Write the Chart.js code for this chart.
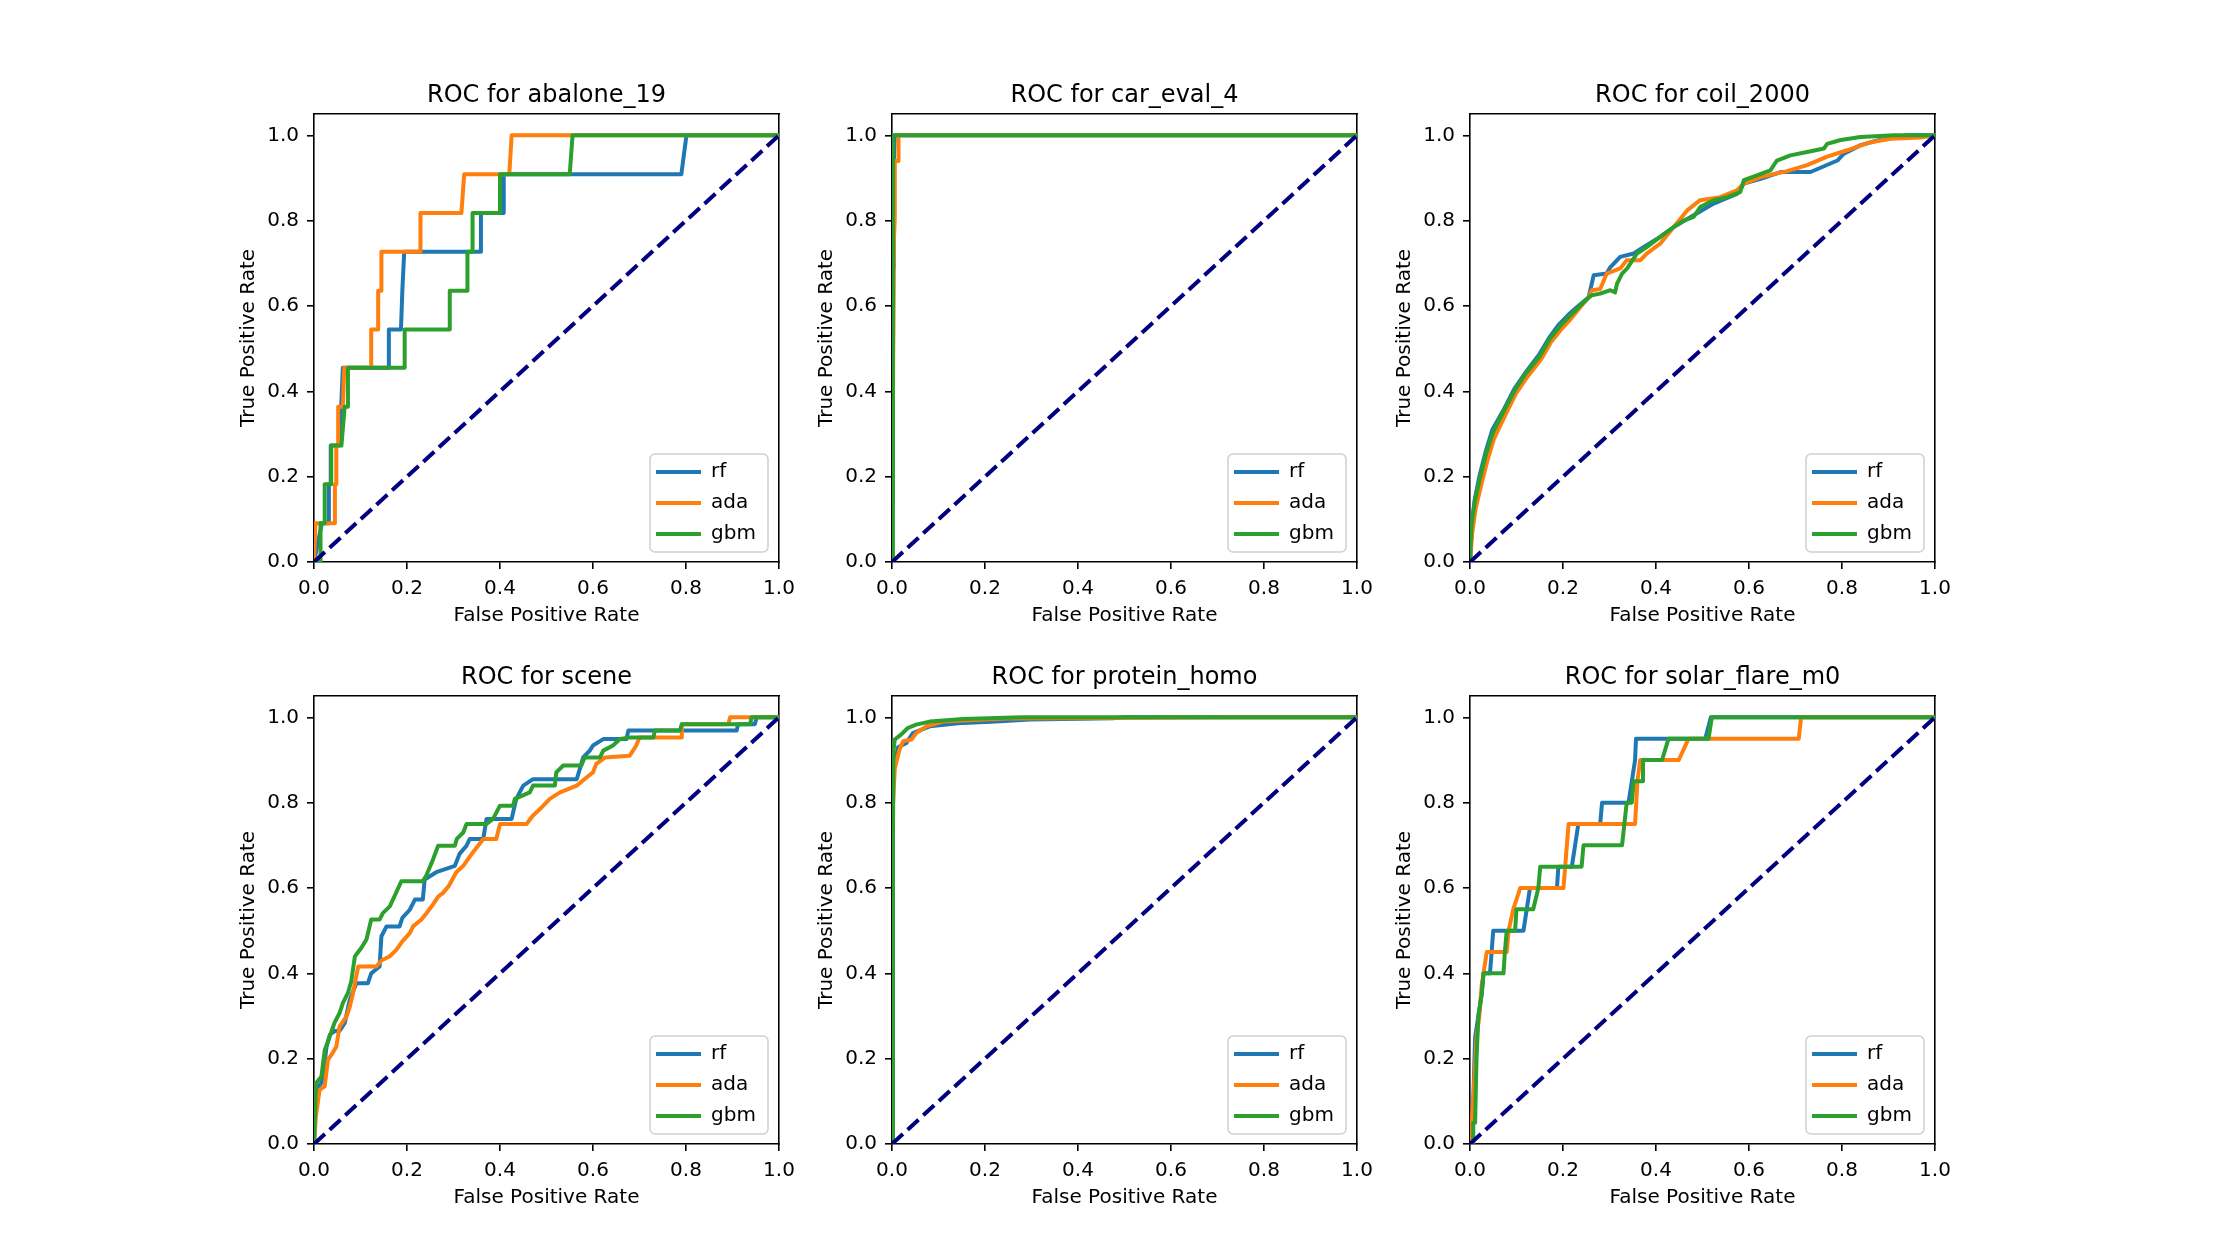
<!DOCTYPE html>
<html>
<head>
<meta charset="utf-8">
<script src="https://cdn.jsdelivr.net/npm/chart.js@4.4.0/dist/chart.umd.min.js"></script>
<style>
  html, body { margin: 0; padding: 0; background: #fff; }
  #fig { position: relative; width: 2240px; height: 1260px; }
  #fig canvas { position: absolute; }
</style>
</head>
<body>
<div id="fig"></div>
<script>
// panel names and model names
const datasetNames = ['abalone_19', 'car_eval_4', 'coil_2000', 'scene', 'protein_homo', 'solar_flare_m0'];
const modelNames = ['rf', 'ada', 'gbm'];
const tickValues = [0, 0.2, 0.4, 0.6, 0.8, 1.0];
const diagonalFpr = [0, 1];
const diagonalTpr = [0, 1];

// abalone_19
const abaloneRfFpr = [0, 0.017, 0.032, 0.032, 0.036, 0.036, 0.055, 0.062, 0.161, 0.161, 0.187, 0.19, 0.194, 0.359, 0.359, 0.408, 0.408, 0.79, 0.801, 1];
const abaloneRfTpr = [0, 0.091, 0.091, 0.182, 0.182, 0.273, 0.273, 0.455, 0.455, 0.545, 0.545, 0.636, 0.727, 0.727, 0.818, 0.818, 0.909, 0.909, 1, 1];
const abaloneAdaFpr = [0, 0.003, 0.045, 0.045, 0.048, 0.048, 0.052, 0.052, 0.062, 0.065, 0.123, 0.123, 0.138, 0.138, 0.145, 0.145, 0.229, 0.229, 0.317, 0.323, 0.42, 0.425, 1];
const abaloneAdaTpr = [0, 0.091, 0.091, 0.182, 0.182, 0.273, 0.273, 0.364, 0.364, 0.455, 0.455, 0.545, 0.545, 0.636, 0.636, 0.727, 0.727, 0.818, 0.818, 0.909, 0.909, 1, 1];
const abaloneGbmFpr = [0, 0.013, 0.014, 0.023, 0.023, 0.037, 0.037, 0.059, 0.066, 0.073, 0.073, 0.195, 0.195, 0.292, 0.292, 0.33, 0.33, 0.341, 0.341, 0.4, 0.4, 0.55, 0.556, 1];
const abaloneGbmTpr = [0, 0, 0.091, 0.091, 0.182, 0.182, 0.273, 0.273, 0.364, 0.364, 0.455, 0.455, 0.545, 0.545, 0.636, 0.636, 0.727, 0.727, 0.818, 0.818, 0.909, 0.909, 1, 1];

// car_eval_4
const carRfFpr = [0, 0.003, 0.004, 0.006, 1];
const carRfTpr = [0, 0.69, 0.94, 1, 1];
const carAdaFpr = [0, 0.004, 0.006, 0.006, 0.014, 0.014, 1];
const carAdaTpr = [0, 0.75, 0.81, 0.94, 0.94, 1, 1];
const carGbmFpr = [0, 0.002, 1];
const carGbmTpr = [0, 1, 1];

// coil_2000
const coilRfFpr = [0, 0.004, 0.01, 0.02, 0.034, 0.048, 0.07, 0.095, 0.12, 0.148, 0.17, 0.19, 0.212, 0.236, 0.255, 0.266, 0.294, 0.301, 0.323, 0.352, 0.373, 0.409, 0.438, 0.481, 0.524, 0.574, 0.589, 0.625, 0.668, 0.732, 0.745, 0.79, 0.804, 0.84, 0.876, 0.94, 1];
const coilRfTpr = [0, 0.09, 0.145, 0.2, 0.26, 0.31, 0.352, 0.405, 0.445, 0.485, 0.525, 0.555, 0.58, 0.603, 0.62, 0.672, 0.676, 0.69, 0.715, 0.723, 0.738, 0.762, 0.785, 0.8125, 0.84, 0.863, 0.887, 0.898, 0.914, 0.914, 0.92, 0.941, 0.957, 0.977, 0.988, 1, 1];
const coilAdaFpr = [0, 0.005, 0.012, 0.024, 0.038, 0.052, 0.074, 0.099, 0.124, 0.153, 0.174, 0.196, 0.217, 0.238, 0.255, 0.262, 0.28, 0.294, 0.323, 0.337, 0.366, 0.38, 0.409, 0.438, 0.467, 0.495, 0.538, 0.574, 0.589, 0.625, 0.682, 0.725, 0.768, 0.811, 0.861, 0.905, 0.97, 1];
const coilAdaTpr = [0, 0.07, 0.125, 0.18, 0.24, 0.29, 0.34, 0.395, 0.435, 0.475, 0.515, 0.545, 0.57, 0.598, 0.62, 0.637, 0.64, 0.676, 0.688, 0.707, 0.707, 0.723, 0.746, 0.785, 0.824, 0.848, 0.855, 0.871, 0.887, 0.902, 0.916, 0.93, 0.95, 0.965, 0.984, 0.992, 0.995, 1];
const coilGbmFpr = [0, 0.003, 0.01, 0.021, 0.035, 0.05, 0.071, 0.096, 0.12, 0.15, 0.171, 0.193, 0.214, 0.236, 0.255, 0.262, 0.28, 0.302, 0.312, 0.316, 0.327, 0.338, 0.359, 0.38, 0.409, 0.438, 0.459, 0.481, 0.495, 0.524, 0.553, 0.581, 0.589, 0.617, 0.646, 0.66, 0.689, 0.725, 0.761, 0.768, 0.797, 0.84, 0.912, 1];
const coilGbmTpr = [0, 0.085, 0.14, 0.195, 0.255, 0.305, 0.35, 0.402, 0.442, 0.482, 0.522, 0.552, 0.576, 0.6, 0.62, 0.625, 0.629, 0.637, 0.632, 0.652, 0.676, 0.688, 0.723, 0.738, 0.762, 0.785, 0.8, 0.809, 0.832, 0.848, 0.855, 0.867, 0.895, 0.906, 0.918, 0.941, 0.953, 0.961, 0.969, 0.98, 0.989, 0.996, 1, 1];

// scene
const sceneRfFpr = [0, 0.004, 0.016, 0.02, 0.027, 0.034, 0.045, 0.055, 0.066, 0.077, 0.091, 0.116, 0.123, 0.141, 0.145, 0.156, 0.184, 0.19, 0.206, 0.217, 0.234, 0.238, 0.263, 0.303, 0.313, 0.328, 0.335, 0.364, 0.371, 0.425, 0.435, 0.45, 0.471, 0.565, 0.579, 0.593, 0.6, 0.622, 0.672, 0.676, 0.909, 0.912, 0.948, 0.952, 1];
const sceneRfTpr = [0, 0.127, 0.143, 0.166, 0.228, 0.256, 0.265, 0.265, 0.283, 0.338, 0.377, 0.377, 0.4, 0.416, 0.487, 0.51, 0.51, 0.53, 0.549, 0.573, 0.573, 0.62, 0.637, 0.652, 0.68, 0.699, 0.715, 0.715, 0.762, 0.762, 0.809, 0.84, 0.855, 0.855, 0.906, 0.922, 0.934, 0.949, 0.949, 0.969, 0.969, 0.984, 0.984, 1, 1];
const sceneAdaFpr = [0, 0.004, 0.012, 0.023, 0.03, 0.038, 0.048, 0.055, 0.07, 0.077, 0.084, 0.095, 0.134, 0.145, 0.163, 0.177, 0.19, 0.206, 0.213, 0.231, 0.242, 0.255, 0.267, 0.277, 0.29, 0.306, 0.321, 0.342, 0.364, 0.392, 0.4, 0.457, 0.471, 0.486, 0.507, 0.529, 0.565, 0.586, 0.6, 0.607, 0.626, 0.679, 0.693, 0.7, 0.791, 0.791, 0.891, 0.895, 1];
const sceneAdaTpr = [0, 0.064, 0.127, 0.135, 0.197, 0.21, 0.228, 0.275, 0.299, 0.322, 0.354, 0.416, 0.416, 0.43, 0.44, 0.455, 0.475, 0.494, 0.51, 0.526, 0.541, 0.56, 0.58, 0.588, 0.605, 0.637, 0.652, 0.684, 0.715, 0.715, 0.75, 0.75, 0.77, 0.785, 0.809, 0.824, 0.84, 0.859, 0.871, 0.891, 0.906, 0.91, 0.934, 0.953, 0.953, 0.984, 0.984, 1, 1];
const sceneGbmFpr = [0, 0.004, 0.016, 0.023, 0.03, 0.044, 0.055, 0.062, 0.073, 0.08, 0.088, 0.091, 0.102, 0.113, 0.123, 0.141, 0.148, 0.163, 0.177, 0.188, 0.234, 0.241, 0.256, 0.267, 0.303, 0.307, 0.321, 0.328, 0.371, 0.385, 0.4, 0.428, 0.432, 0.464, 0.471, 0.518, 0.521, 0.536, 0.575, 0.582, 0.615, 0.622, 0.643, 0.658, 0.68, 0.73, 0.733, 0.787, 0.791, 0.938, 0.941, 1];
const sceneGbmTpr = [0, 0.142, 0.158, 0.22, 0.24, 0.284, 0.307, 0.33, 0.354, 0.381, 0.44, 0.444, 0.46, 0.48, 0.526, 0.526, 0.541, 0.557, 0.59, 0.616, 0.616, 0.628, 0.667, 0.699, 0.699, 0.715, 0.73, 0.75, 0.75, 0.762, 0.793, 0.793, 0.809, 0.824, 0.84, 0.84, 0.871, 0.887, 0.887, 0.906, 0.906, 0.922, 0.934, 0.949, 0.953, 0.953, 0.969, 0.969, 0.984, 0.984, 1, 1];

// protein_homo
const proteinRfFpr = [0, 0.002, 0.013, 0.031, 0.045, 0.081, 0.153, 0.224, 0.296, 0.475, 0.5, 1];
const proteinRfTpr = [0, 0.87, 0.93, 0.94, 0.963, 0.979, 0.987, 0.99, 0.995, 0.998, 1, 1];
const proteinAdaFpr = [0, 0.001, 0.006, 0.016, 0.024, 0.042, 0.052, 0.074, 0.11, 0.246, 0.73, 1];
const proteinAdaTpr = [0, 0.77, 0.88, 0.924, 0.944, 0.948, 0.963, 0.979, 0.99, 0.997, 1, 1];
const proteinGbmFpr = [0, 0.002, 0.003, 0.006, 0.02, 0.034, 0.052, 0.081, 0.153, 0.28, 1];
const proteinGbmTpr = [0, 0.69, 0.92, 0.948, 0.96, 0.975, 0.983, 0.99, 0.996, 1, 1];

// solar_flare_m0
const solarRfFpr = [0, 0.004, 0.007, 0.011, 0.018, 0.025, 0.029, 0.043, 0.05, 0.115, 0.129, 0.187, 0.19, 0.219, 0.233, 0.28, 0.284, 0.341, 0.355, 0.357, 0.506, 0.518, 1];
const solarRfTpr = [0, 0.05, 0.1, 0.25, 0.3, 0.35, 0.4, 0.4, 0.5, 0.5, 0.6, 0.6, 0.65, 0.65, 0.75, 0.75, 0.8, 0.8, 0.9, 0.95, 0.95, 1, 1];
const solarAdaFpr = [0, 0.007, 0.014, 0.02, 0.025, 0.036, 0.079, 0.083, 0.093, 0.108, 0.201, 0.212, 0.355, 0.36, 0.366, 0.449, 0.47, 0.707, 0.712, 1];
const solarAdaTpr = [0, 0.1, 0.25, 0.3, 0.37, 0.45, 0.45, 0.5, 0.55, 0.6, 0.6, 0.75, 0.75, 0.85, 0.9, 0.9, 0.95, 0.95, 1, 1];
const solarGbmFpr = [0, 0.007, 0.007, 0.011, 0.014, 0.018, 0.025, 0.029, 0.072, 0.075, 0.079, 0.097, 0.1, 0.136, 0.147, 0.151, 0.24, 0.244, 0.327, 0.337, 0.348, 0.352, 0.37, 0.372, 0.413, 0.427, 0.513, 0.52, 1];
const solarGbmTpr = [0, 0, 0.05, 0.05, 0.2, 0.3, 0.35, 0.4, 0.4, 0.45, 0.5, 0.5, 0.55, 0.55, 0.6, 0.65, 0.65, 0.7, 0.7, 0.8, 0.8, 0.85, 0.85, 0.9, 0.9, 0.95, 0.95, 1, 1];

const curves = [
  [[abaloneRfFpr, abaloneRfTpr], [abaloneAdaFpr, abaloneAdaTpr], [abaloneGbmFpr, abaloneGbmTpr]],
  [[carRfFpr, carRfTpr], [carAdaFpr, carAdaTpr], [carGbmFpr, carGbmTpr]],
  [[coilRfFpr, coilRfTpr], [coilAdaFpr, coilAdaTpr], [coilGbmFpr, coilGbmTpr]],
  [[sceneRfFpr, sceneRfTpr], [sceneAdaFpr, sceneAdaTpr], [sceneGbmFpr, sceneGbmTpr]],
  [[proteinRfFpr, proteinRfTpr], [proteinAdaFpr, proteinAdaTpr], [proteinGbmFpr, proteinGbmTpr]],
  [[solarRfFpr, solarRfTpr], [solarAdaFpr, solarAdaTpr], [solarGbmFpr, solarGbmTpr]]
];

// style + layout
const colors = ['#1f77b4', '#ff7f0e', '#2ca02c'];
const colLefts = [314, 892, 1470];
const rowTops = [114, 696];
const plotW = 465, plotH = 448;
const padL = 110, padR = 110, padT = 50, padB = 80;

Chart.defaults.font.family = "'DejaVu Sans', sans-serif";
Chart.defaults.font.size = 20;
Chart.defaults.color = '#000';

function toPoints(xs, ys) {
  return xs.map((x, i) => ({ x: x, y: ys[i] }));
}

// moves the built-in legend into the lower right corner of the axes
const legendInside = {
  id: 'legendInside',
  afterLayout(chart) {
    const lg = chart.legend, a = chart.chartArea;
    if (!lg) return;
    lg.left = a.left + 331;
    lg.top = a.top + 337;
    lg.width = 123;
    lg.height = 112;
    lg.right = lg.left + lg.width;
    lg.bottom = lg.top + lg.height;
  },
  beforeDraw(chart) {
    const a = chart.chartArea, ctx = chart.ctx;
    ctx.save();
    ctx.beginPath();
    ctx.roundRect(a.left + 336, a.top + 340, 118, 98, 5);
    ctx.fillStyle = 'rgba(255,255,255,0.8)';
    ctx.fill();
    ctx.lineWidth = 1.5;
    ctx.strokeStyle = '#d0d0d0';
    ctx.stroke();
    ctx.restore();
  }
};

const spine = { display: true, color: '#000', width: 1.6 };
const tickGrid = { drawOnChartArea: false, drawTicks: true, tickLength: 7, color: '#000', lineWidth: 1.6 };

const fig = document.getElementById('fig');

datasetNames.forEach((name, p) => {
  const col = p % 3, row = Math.floor(p / 3);
  const canvas = document.createElement('canvas');
  canvas.width = padL + plotW + padR;
  canvas.height = padT + plotH + padB;
  canvas.style.left = (colLefts[col] - padL) + 'px';
  canvas.style.top = (rowTops[row] - padT) + 'px';
  fig.appendChild(canvas);

  const datasets = modelNames.map((m, k) => ({
    label: m,
    data: toPoints(curves[p][k][0], curves[p][k][1]),
    borderColor: colors[k],
    backgroundColor: colors[k],
    pointBorderColor: colors[k],
    pointBorderWidth: 4,
    borderWidth: 4,
    borderJoinStyle: 'round',
    pointRadius: 0,
    tension: 0,
    clip: 0,
    order: 3 - k
  }));
  datasets.push({
    label: 'chance',
    data: toPoints(diagonalFpr, diagonalTpr),
    borderColor: '#000080',
    borderWidth: 4,
    borderDash: [14.8, 6.4],
    pointRadius: 0,
    clip: 0,
    order: 0
  });

  new Chart(canvas, {
    type: 'line',
    data: { datasets: datasets },
    options: {
      responsive: false,
      animation: false,
      events: [],
      layout: { autoPadding: false, padding: { left: padL - 77, right: padR - 77, top: 0, bottom: padB - 66 } },
      scales: {
        x: {
          type: 'linear', position: 'bottom', min: 0, max: 1,
          afterBuildTicks: s => { s.ticks = tickValues.map(v => ({ value: v })); },
          afterFit: s => { s.height = 66; },
          grid: tickGrid, border: spine,
          ticks: { padding: 8, maxRotation: 0, callback: v => v.toFixed(1) },
          title: { display: true, text: 'False Positive Rate', padding: { top: 0, bottom: 0 }, font: { size: 20 } }
        },
        y: {
          type: 'linear', position: 'left', min: 0, max: 1.05,
          afterBuildTicks: s => { s.ticks = tickValues.map(v => ({ value: v })); },
          afterFit: s => { s.width = 77; },
          grid: tickGrid, border: spine,
          ticks: { padding: 8, callback: v => v.toFixed(1) },
          title: { display: true, text: 'True Positive Rate', padding: { top: 0, bottom: 0 }, font: { size: 20 } }
        },
        xTop: {
          type: 'linear', position: 'top', min: 0, max: 1,
          afterFit: s => { s.height = 0; },
          grid: { display: false }, ticks: { display: false }, border: spine
        },
        yRight: {
          type: 'linear', position: 'right', min: 0, max: 1.05,
          afterFit: s => { s.width = 77; },
          grid: { display: false }, ticks: { display: false }, border: spine
        }
      },
      plugins: {
        tooltip: { enabled: false },
        title: {
          display: true,
          text: 'ROC for ' + name,
          font: { size: 24, weight: 'normal' },
          color: '#000',
          padding: { top: padT - 28.8 - 4.2, bottom: 4.2 }
        },
        legend: {
          position: 'chartArea',
          align: 'start',
          labels: {
            usePointStyle: true,
            pointStyle: 'line',
            pointStyleWidth: 45,
            padding: 11,
            font: { size: 20 },
            color: '#000',
            filter: item => item.datasetIndex < 3,
            sort: (a, b) => a.datasetIndex - b.datasetIndex
          }
        }
      }
    },
    plugins: [legendInside]
  });
});
</script>
</body>
</html>
